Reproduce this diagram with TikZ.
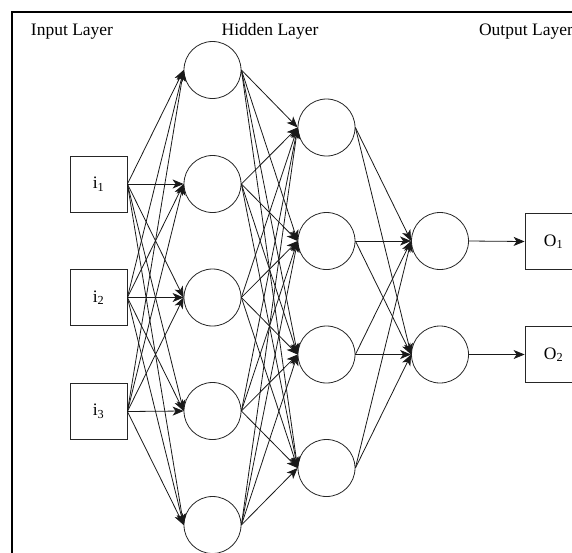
\documentclass[tikz,border=0pt]{standalone}
\usepackage{fontspec}
\setmainfont{Liberation Serif}
\usetikzlibrary{arrows.meta}
\begin{document}
\begin{tikzpicture}[x=1pt,y=-1pt,
  neuron/.style={circle,draw=black!85,line width=0.8pt,minimum size=57pt,inner sep=0pt},
  iobox/.style={rectangle,draw=black!85,line width=0.8pt,minimum width=57pt,minimum height=56pt,inner sep=0pt,font=\fontsize{17.5}{20}\selectfont},
  layertitle/.style={anchor=base,inner sep=0pt,font=\fontsize{17.5}{20}\selectfont},
  link/.style={draw=black!90,line width=0.8pt,-{Stealth[length=11pt,width=9pt,inset=3pt]}},
]
\useasboundingbox (0,0) rectangle (572,552);

% outer frame (runs past the right and bottom edges)
\begin{scope}
  \clip (0,0) rectangle (572,552);
  \draw[line width=1.4pt] (12,600) -- (12,12) -- (600,12);
\end{scope}

% layer titles
\node[layertitle] (tin)  at (72,35)  {Input Layer};
\node[layertitle] (thid) at (270,35) {Hidden Layer};
\node[layertitle] (tout) at (526,35) {Output Layer};

% input layer
\node[iobox] (i1) at (98.5,184)   {i\textsubscript{1}};
\node[iobox] (i2) at (98.5,297.5) {i\textsubscript{2}};
\node[iobox] (i3) at (98.5,411.5) {i\textsubscript{3}};

% first hidden layer
\foreach \k/\y in {1/70,2/184,3/297.5,4/411,5/525}
  \node[neuron] (a\k) at (212.5,\y) {};

% second hidden layer
\foreach \k/\y in {1/127.5,2/241,3/354.5,4/468}
  \node[neuron] (b\k) at (326.5,\y) {};

% third hidden layer
\foreach \k/\y in {1/241,2/354.5}
  \node[neuron] (c\k) at (440,\y) {};

% output layer (clipped at the right edge)
\begin{scope}
  \clip (0,0) rectangle (572,552);
  \node[iobox] (o1) at (553.5,241.5) {O\textsubscript{1}};
  \node[iobox] (o2) at (553.5,354.5) {O\textsubscript{2}};
\end{scope}

% connections
\foreach \s in {1,2,3}
  \foreach \t in {1,...,5}
    \draw[link] (i\s.east) -- (a\t.west);
\foreach \s in {1,...,5}
  \foreach \t in {1,...,4}
    \draw[link] (a\s.east) -- (b\t.west);
\foreach \s in {1,...,4}
  \foreach \t in {1,2}
    \draw[link] (b\s.east) -- (c\t.west);
\draw[link] (c1.east) -- (o1.west);
\draw[link] (c2.east) -- (o2.west);
\end{tikzpicture}
\end{document}
